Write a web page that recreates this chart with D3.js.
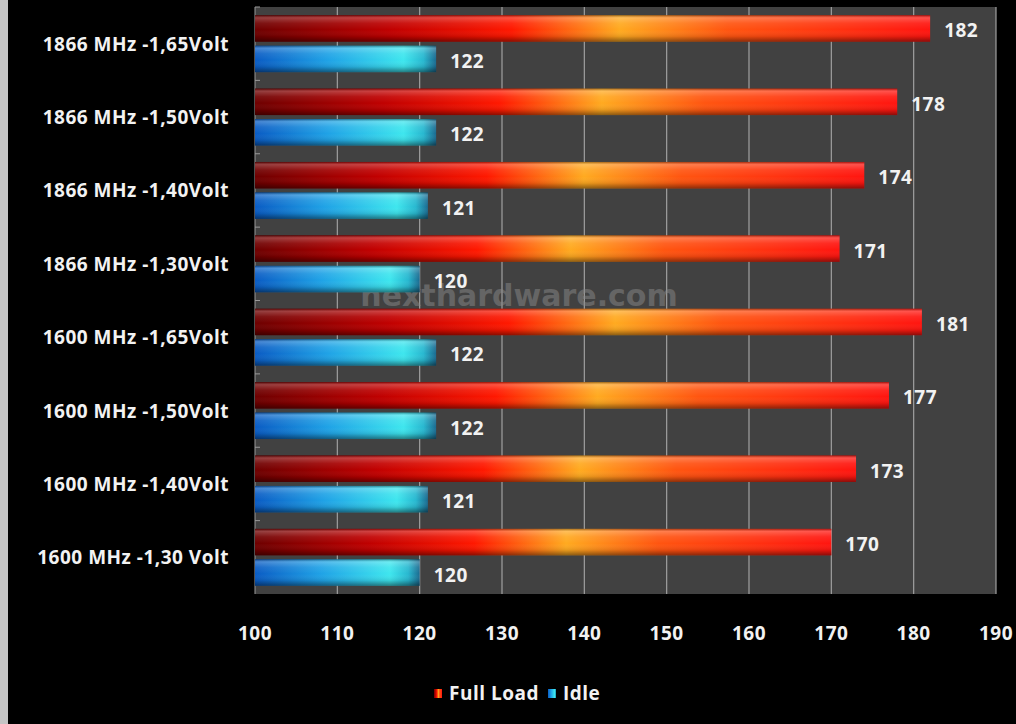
<!DOCTYPE html>
<html>
<head>
<meta charset="utf-8" />
<script src="https://d3js.org/d3.v7.min.js"></script>
<style>
    body { margin: 0; background: #000; }
    .lbl { font-family: "Open Sans", Lato, sans-serif; font-weight: bold; fill: #f2f2f2; font-size: 19px; letter-spacing: 0.5px; }
</style>
</head>
<body>
<svg id="chart" width="1016" height="724"></svg>
<script>
    // chart data
    const categories = [
        "1866 MHz -1,65Volt", "1866 MHz -1,50Volt", "1866 MHz -1,40Volt", "1866 MHz -1,30Volt",
        "1600 MHz -1,65Volt", "1600 MHz -1,50Volt", "1600 MHz -1,40Volt", "1600 MHz -1,30 Volt"
    ];
    const series = ["Full Load", "Idle"];
    const fullLoad = [182, 178, 174, 171, 181, 177, 173, 170];
    const idle = [122, 122, 121, 120, 122, 122, 121, 120];
    const ticks = [100, 110, 120, 130, 140, 150, 160, 170, 180, 190];

    const svg = d3.select("#chart");
    const plotLeft = 255, plotRight = 996, plotTop = 7, plotBottom = 594;

    // gray strip on the far left
    svg.append("rect").attr("x", 0).attr("y", 0).attr("width", 8).attr("height", 724).attr("fill", "#c4c4c4");

    const x = d3.scaleLinear().domain([100, 190]).range([plotLeft, plotRight]);
    const y = d3.scaleBand().domain(categories).range([plotTop, plotBottom]);
    const ySub = d3.scaleBand().domain(series).range([0, y.bandwidth()])
        .paddingInner(0.13).paddingOuter(0.27);

    const defs = svg.append("defs");
    const red = defs.append("linearGradient").attr("id", "gRed");
    [[0, "#6e0000"], [0.2, "#c00000"], [0.38, "#ff1800"], [0.54, "#ffaa20"], [0.7, "#ff5510"], [1, "#ff1510"]]
        .forEach(s => red.append("stop").attr("offset", s[0]).attr("stop-color", s[1]));
    const blue = defs.append("linearGradient").attr("id", "gBlue");
    [[0, "#0a5cc4"], [0.4, "#1fa2e6"], [0.82, "#3ee6ee"], [0.93, "#28b8d0"], [1, "#1a6a90"]]
        .forEach(s => blue.append("stop").attr("offset", s[0]).attr("stop-color", s[1]));
    const shade = defs.append("linearGradient").attr("id", "gShade")
        .attr("x1", 0).attr("y1", 0).attr("x2", 0).attr("y2", 1);
    [[0, "#000", 0.35], [0.1, "#fff", 0.25], [0.3, "#fff", 0.08], [0.55, "#fff", 0], [0.8, "#000", 0.1], [1, "#000", 0.45]]
        .forEach(s => shade.append("stop").attr("offset", s[0]).attr("stop-color", s[1]).attr("stop-opacity", s[2]));

    // plot background
    svg.append("rect").attr("x", plotLeft).attr("y", plotTop)
        .attr("width", plotRight - plotLeft).attr("height", plotBottom - plotTop).attr("fill", "#414141");

    // vertical gridlines
    svg.append("g").selectAll("line").data(ticks.slice(1)).enter().append("line")
        .attr("x1", d => x(d)).attr("x2", d => x(d))
        .attr("y1", plotTop).attr("y2", plotBottom)
        .attr("stroke", "#a0a0a0").attr("stroke-width", 1.2);

    // category axis line and ticks
    svg.append("line").attr("x1", plotLeft).attr("x2", plotLeft).attr("y1", plotTop).attr("y2", plotBottom)
        .attr("stroke", "#9a9a9a");
    svg.append("g").selectAll("line").data(categories).enter().append("line")
        .attr("x1", plotLeft).attr("x2", plotLeft + 5)
        .attr("y1", d => y(d)).attr("y2", d => y(d))
        .attr("stroke", "#9a9a9a");

    // watermark
    svg.append("text").attr("x", 519).attr("y", 306)
        .attr("text-anchor", "middle")
        .style("font-family", "'DejaVu Sans', sans-serif").style("font-weight", "bold")
        .style("font-size", "30px").attr("fill", "#8a8a8a").attr("opacity", 0.5)
        .text("nexthardware.com");

    const rows = categories.map((c, i) => ({ c, v: [fullLoad[i], idle[i]] }));
    const groups = svg.append("g").selectAll("g").data(rows).enter().append("g")
        .attr("transform", d => `translate(0,${y(d.c)})`);

    series.forEach((s, k) => {
        const fill = k === 0 ? "url(#gRed)" : "url(#gBlue)";
        groups.append("rect")
            .attr("x", plotLeft).attr("y", ySub(s))
            .attr("width", d => x(d.v[k]) - plotLeft).attr("height", ySub.bandwidth())
            .attr("fill", fill);
        groups.append("rect")
            .attr("x", plotLeft).attr("y", ySub(s))
            .attr("width", d => x(d.v[k]) - plotLeft).attr("height", ySub.bandwidth())
            .attr("fill", "url(#gShade)");
        groups.append("text").attr("class", "lbl")
            .attr("x", d => x(d.v[k]) + 14)
            .attr("y", ySub(s) + ySub.bandwidth() / 2 + 9)
            .text(d => d.v[k]);
    });

    // category labels
    svg.append("g").selectAll("text").data(categories).enter().append("text")
        .attr("class", "lbl")
        .attr("x", 229).attr("y", d => y(d) + y.bandwidth() / 2 + 7)
        .attr("text-anchor", "end")
        .text(d => d);

    // x tick labels
    svg.append("g").selectAll("text").data(ticks).enter().append("text")
        .attr("class", "lbl")
        .attr("x", d => x(d)).attr("y", 640)
        .attr("text-anchor", "middle")
        .text(d => d);

    // legend
    const legend = [
        { name: series[0], fill: "url(#gRed)", x: 434 },
        { name: series[1], fill: "url(#gBlue)", x: 548 }
    ];
    const lg = svg.append("g").selectAll("g").data(legend).enter().append("g")
        .attr("transform", d => `translate(${d.x},689)`);
    lg.append("rect").attr("width", 8).attr("height", 9).attr("fill", d => d.fill);
    lg.append("text").attr("class", "lbl").attr("x", 15).attr("y", 11)
        .text(d => d.name);
</script>
</body>
</html>
